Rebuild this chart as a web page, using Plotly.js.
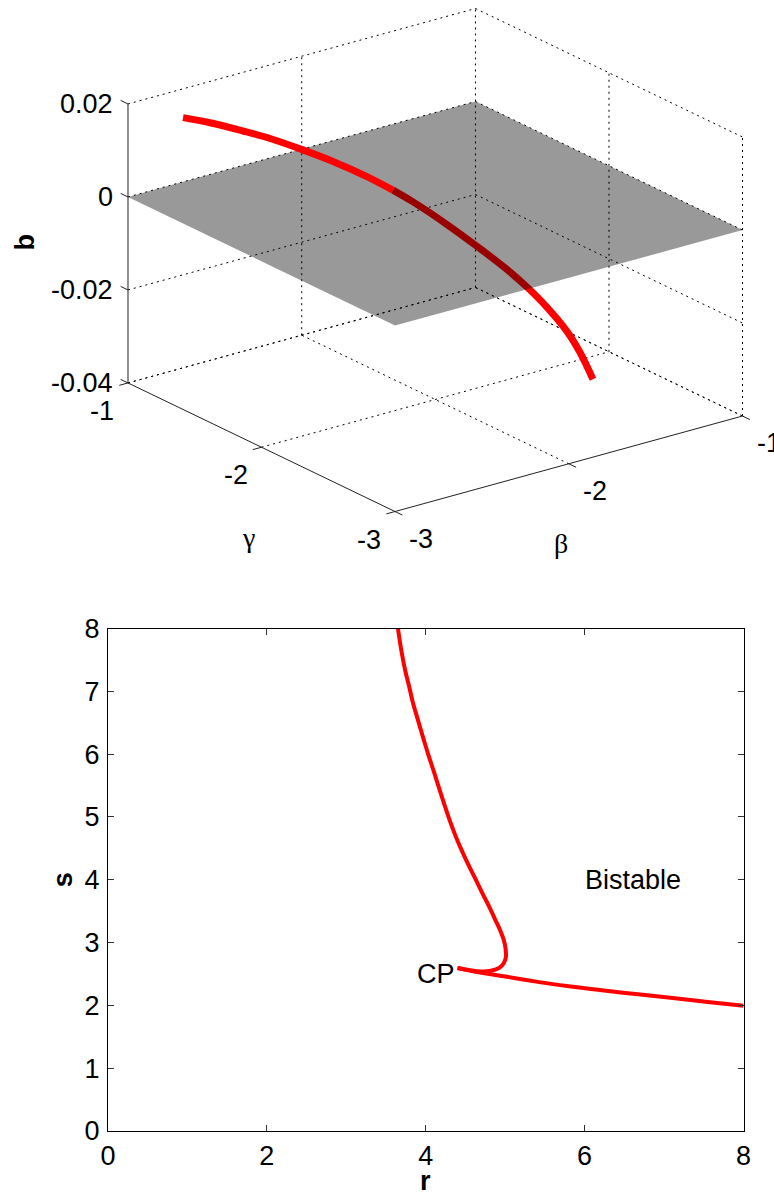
<!DOCTYPE html>
<html>
<head>
<meta charset="utf-8">
<script src="https://cdn.plot.ly/plotly-3.0.1.min.js"></script>
<style>
  html, body { margin: 0; padding: 0; background: #fff; }
  #chart { width: 774px; height: 1192px; }
</style>
</head>
<body>
<div id="chart"></div>
<script>
// ---------- Upper panel: fold curve in (beta, gamma, b) space ----------
const foldBeta  = [-2.800, -2.694, -2.565, -2.459, -2.330, -2.212, -2.079, -1.977, -1.908,
                   -1.793, -1.682, -1.590, -1.523, -1.455, -1.388, -1.344, -1.300];
const foldGamma = [-1.152, -1.216, -1.295, -1.360, -1.438, -1.510, -1.591, -1.653, -1.714,
                   -1.819, -1.921, -2.004, -2.066, -2.128, -2.190, -2.230, -2.270];
const foldB     = [0.0171, 0.0158, 0.0138, 0.0120, 0.0093, 0.0066, 0.0031, 0.0000, -0.0024,
                   -0.0070, -0.0119, -0.0162, -0.0198, -0.0240, -0.0290, -0.0334, -0.0391];

const betaTicks  = [-3, -2, -1];
const gammaTicks = [-3, -2, -1];
const bTicks     = [-0.04, -0.02, 0, 0.02];
const bTickText  = ['-0.04', '-0.02', '0', '0.02'];
const planeLevel = 0;

// ---------- Lower panel: bifurcation curve in the (r, s) plane ----------
// upper branch, from the top edge down round the fold to the cusp point CP
const upperR = [3.65, 3.69, 3.74, 3.79, 3.84, 3.90, 3.965, 4.03, 4.11, 4.20, 4.295, 4.40, 4.51,
                4.615, 4.715, 4.795, 4.88, 4.935, 4.985, 5.005, 5.01, 4.985, 4.93, 4.82, 4.70,
                4.58, 4.40];
const upperS = [8.00, 7.67, 7.34, 7.08, 6.81, 6.55, 6.27, 6.00, 5.69, 5.33, 4.97, 4.62, 4.31,
                4.04, 3.78, 3.58, 3.35, 3.20, 3.03, 2.90, 2.78, 2.68, 2.60, 2.55, 2.54,
                2.555, 2.595];
// lower branch, from CP out to the right edge
const lowerR = [4.40, 4.55, 4.72, 5.00, 5.43, 5.85, 6.27, 6.70, 7.11, 7.55, 8.00];
const lowerS = [2.595, 2.555, 2.515, 2.46, 2.37, 2.295, 2.233, 2.172, 2.117, 2.055, 1.994];
const rTicks = [0, 2, 4, 6, 8];
const sTicks = [0, 1, 2, 3, 4, 5, 6, 7, 8];

// ---------- orthographic view of the 3-D box ----------
const LIM  = { beta: [-3, -1], gamma: [-3, -1], b: [-0.04, 0.02] };
const VIEW = { az: -37.07, el: 21.33, size: [435.5, 443, 299.5] };

function project(beta, gamma, b) {
  const az = VIEW.az * Math.PI / 180, el = VIEW.el * Math.PI / 180;
  const X = ((beta  - LIM.beta[0])  / (LIM.beta[1]  - LIM.beta[0])  - 0.5) * VIEW.size[0];
  const Y = ((gamma - LIM.gamma[0]) / (LIM.gamma[1] - LIM.gamma[0]) - 0.5) * VIEW.size[1];
  const Z = ((b     - LIM.b[0])     / (LIM.b[1]     - LIM.b[0])     - 0.5) * VIEW.size[2];
  return [
    X * Math.cos(az) + Y * Math.sin(az),
    -X * Math.sin(az) * Math.sin(el) + Y * Math.cos(az) * Math.sin(el) + Z * Math.cos(el)
  ];
}

// collect 3-D segments into one broken polyline
function segments(list) {
  const xs = [], ys = [];
  list.forEach(([p, q]) => {
    const a = project(...p), c = project(...q);
    xs.push(a[0], c[0], null);
    ys.push(a[1], c[1], null);
  });
  return { x: xs, y: ys };
}

const [bLo, bHi] = LIM.b;
const [gLo, gHi] = LIM.gamma;
const [beLo, beHi] = LIM.beta;

// dotted grid on the two back walls and on the floor
const gridSegs = [];
bTicks.forEach(b => {
  gridSegs.push([[beLo, gHi, b], [beHi, gHi, b]]);   // wall gamma = max
  gridSegs.push([[beHi, gHi, b], [beHi, gLo, b]]);   // wall beta = max
});
betaTicks.filter(v => v !== beLo).forEach(v => {
  gridSegs.push([[v, gHi, bLo], [v, gHi, bHi]]);
  gridSegs.push([[v, gLo, bLo], [v, gHi, bLo]]);
});
gammaTicks.filter(v => v !== gHi).forEach(v => {
  gridSegs.push([[beHi, v, bLo], [beHi, v, bHi]]);
});
gammaTicks.filter(v => v !== gLo).forEach(v => {
  gridSegs.push([[beLo, v, bLo], [beHi, v, bLo]]);
});

// solid axis lines and their tick marks
const axisSegs = [
  [[beLo, gHi, bLo], [beLo, gHi, bHi]],
  [[beLo, gHi, bLo], [beLo, gLo, bLo]],
  [[beLo, gLo, bLo], [beHi, gLo, bLo]]
];
bTicks.forEach(b => axisSegs.push([[beLo, gHi, b], [beLo, gHi + 0.055, b]]));
gammaTicks.forEach(g => axisSegs.push([[beLo, g, bLo], [beLo - 0.05, g, bLo]]));
betaTicks.forEach(v => axisSegs.push([[v, gLo, bLo], [v, gLo - 0.055, bLo]]));

const grid = segments(gridSegs);
const axes3 = segments(axisSegs);

// plane b = 0 over the whole (beta, gamma) square
const planeCorners = [[beLo, gHi], [beHi, gHi], [beHi, gLo], [beLo, gLo], [beLo, gHi]]
  .map(([be, g]) => project(be, g, planeLevel));

// split the fold curve where it passes below the plane
const pts = foldBeta.map((be, i) => project(be, foldGamma[i], foldB[i]));
const firstBelow = foldB.findIndex(v => v < planeLevel);
const abovePts = pts.slice(0, firstBelow);
const belowPts = pts.slice(firstBelow - 1);

const FONT = 'Liberation Sans, Arial, Helvetica, sans-serif';
const SERIF = 'Liberation Serif, DejaVu Serif, serif';
const RED = 'rgb(255,0,0)';

const traces = [
  { x: grid.x, y: grid.y, mode: 'lines', xaxis: 'x', yaxis: 'y',
    line: { color: '#000', width: 1, dash: '2px,4px' }, hoverinfo: 'skip', showlegend: false },
  { x: axes3.x, y: axes3.y, mode: 'lines', xaxis: 'x', yaxis: 'y',
    line: { color: '#222', width: 1 }, hoverinfo: 'skip', showlegend: false },
  { x: belowPts.map(p => p[0]), y: belowPts.map(p => p[1]), mode: 'lines', xaxis: 'x', yaxis: 'y',
    line: { color: RED, width: 7, shape: 'spline', smoothing: 1 }, hoverinfo: 'skip', showlegend: false },
  { x: planeCorners.map(p => p[0]), y: planeCorners.map(p => p[1]), mode: 'lines', fill: 'toself',
    fillcolor: 'rgba(0,0,0,0.4)', line: { width: 0, color: 'rgba(0,0,0,0)' },
    xaxis: 'x', yaxis: 'y', hoverinfo: 'skip', showlegend: false },
  { x: abovePts.map(p => p[0]), y: abovePts.map(p => p[1]), mode: 'lines', xaxis: 'x', yaxis: 'y',
    line: { color: RED, width: 7, shape: 'spline', smoothing: 1 }, hoverinfo: 'skip', showlegend: false },
  { x: upperR, y: upperS, mode: 'lines', xaxis: 'x2', yaxis: 'y2',
    line: { color: RED, width: 4, shape: 'spline', smoothing: 0.8 }, hoverinfo: 'skip', showlegend: false },
  { x: lowerR, y: lowerS, mode: 'lines', xaxis: 'x2', yaxis: 'y2',
    line: { color: RED, width: 4, shape: 'spline', smoothing: 0.8 }, hoverinfo: 'skip', showlegend: false }
];

// tick labels and titles of the 3-D box
const annotations = [];
const ann3 = (pos, text, extra) => {
  annotations.push(Object.assign({
    x: pos[0], y: pos[1], xref: 'x', yref: 'y', text: text, showarrow: false,
    font: { family: FONT, size: 27, color: '#000' }
  }, extra));
};
bTicks.forEach((b, i) => ann3(project(beLo, gHi, b), bTickText[i],
  { xanchor: 'right', yanchor: 'middle', xshift: -13 }));
gammaTicks.forEach(g => ann3(project(beLo, g, bLo), String(g),
  { xanchor: 'center', yanchor: 'middle', xshift: -26, yshift: -28 }));
betaTicks.forEach(v => ann3(project(v, gLo, bLo), String(v),
  { xanchor: 'center', yanchor: 'middle', xshift: 26, yshift: -27 }));
ann3(project(beLo, -2, bLo), 'γ', { xanchor: 'center', yanchor: 'middle', xshift: -13, yshift: -90,
  font: { family: SERIF, size: 28, color: '#000' } });
ann3(project(-2, gLo, bLo), 'β', { xanchor: 'center', yanchor: 'middle', xshift: -8, yshift: -80,
  font: { family: SERIF, size: 28, color: '#000' } });
ann3(project(beLo, gHi, -0.01), '<b>b</b>', { xanchor: 'center', yanchor: 'middle',
  xshift: -103, yshift: 2, textangle: -90 });

// labels of the (r, s) panel
annotations.push({ x: 6.61, y: 4.0, xref: 'x2', yref: 'y2', text: 'Bistable', showarrow: false,
  xanchor: 'center', yanchor: 'middle', font: { family: FONT, size: 27, color: '#000' } });
annotations.push({ x: 4.135, y: 2.50, xref: 'x2', yref: 'y2', text: 'CP', showarrow: false,
  xanchor: 'center', yanchor: 'middle', font: { family: FONT, size: 27, color: '#000' } });

const W = 774, H = 1192;
// r-axis title sits just under the tick labels
annotations.push({ x: 4, y: (H - 1181) / H, xref: 'x2', yref: 'paper', text: '<b>r</b>',
  showarrow: false, xanchor: 'center', yanchor: 'middle',
  font: { family: FONT, size: 27, color: '#000' } });

const axisStyle = {
  ticks: 'inside', ticklen: 6, tickwidth: 1, tickcolor: '#333',
  showline: true, linecolor: '#000', linewidth: 1, mirror: 'ticks',
  showgrid: false, zeroline: false, fixedrange: true,
  tickfont: { family: FONT, size: 27, color: '#000' }
};

const layout = {
  width: W, height: H,
  margin: { l: 0, r: 0, t: 0, b: 0 },
  paper_bgcolor: '#fff', plot_bgcolor: 'rgba(0,0,0,0)',
  showlegend: false,
  // projected box: one unit = one pixel, box centre at (435.25, 260)
  xaxis: { domain: [0, 1], range: [-435.25, W - 435.25], visible: false, fixedrange: true },
  yaxis: { domain: [0.5, 1], range: [260 - H / 2, 260], visible: false, fixedrange: true },
  xaxis2: Object.assign({}, axisStyle, {
    domain: [108 / W, 743.5 / W], anchor: 'y2', range: [0, 8], tickvals: rTicks,
    ticklabelstandoff: 1
  }),
  yaxis2: Object.assign({}, axisStyle, {
    domain: [(H - 1131) / H, (H - 628.5) / H], anchor: 'x2', range: [0, 8], tickvals: sTicks,
    ticklabelstandoff: 2,
    title: { text: '<b>s</b>', font: { family: FONT, size: 27, color: '#000' }, standoff: 4 }
  }),
  annotations: annotations
};

Plotly.newPlot('chart', traces, layout, { staticPlot: true, displayModeBar: false });
</script>
</body>
</html>
